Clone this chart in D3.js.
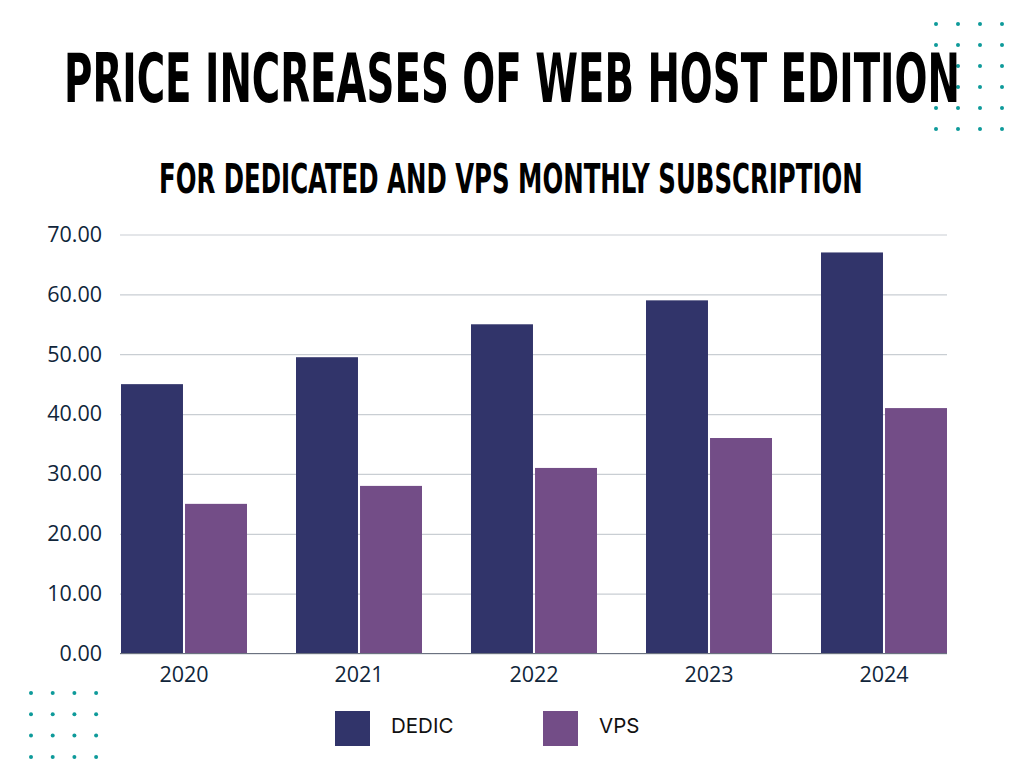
<!DOCTYPE html>
<html>
<head>
<meta charset="utf-8">
<script src="https://cdn.jsdelivr.net/npm/d3@7"></script>
<style>
  html, body { margin: 0; padding: 0; background: #ffffff; }
  svg { display: block; }
</style>
</head>
<body>
<script>
const years = ["2020", "2021", "2022", "2023", "2024"];
const dedic = [45, 49.5, 55, 59, 67];
const vps = [25, 28, 31, 36, 41];
const seriesNames = ["DEDIC", "VPS"];
const yTicks = [0, 10, 20, 30, 40, 50, 60, 70];
const titleText = "PRICE INCREASES OF WEB HOST EDITION";
const subtitleText = "FOR DEDICATED AND VPS MONTHLY SUBSCRIPTION";

const W = 1024, H = 768;
const colors = ["#31346a", "#734d87"];
const teal = "#0e9a9a";

const svg = d3.select("body").append("svg").attr("width", W).attr("height", H);
svg.append("rect").attr("width", W).attr("height", H).attr("fill", "#fff");

// decorative dot grids
const dotGrid = (x0, y0, cols, rows, dx, dy) => {
  const pts = [];
  for (let r = 0; r < rows; r++) for (let c = 0; c < cols; c++) pts.push([x0 + c * dx, y0 + r * dy]);
  svg.append("g").selectAll("circle").data(pts).join("circle")
    .attr("cx", d => d[0]).attr("cy", d => d[1]).attr("r", 2).attr("fill", teal);
};
dotGrid(936, 24, 4, 6, 22, 21);
dotGrid(31, 693, 4, 4, 21.7, 21.3);

// titles, fitted horizontally to the reference widths
const fitText = (txt, x, yb, size, targetW) => {
  const g = svg.append("g");
  const t = g.append("text").text(txt).attr("x", 0).attr("y", 0)
    .attr("font-family", "'DejaVu Sans Condensed', 'Liberation Sans Narrow', 'Liberation Sans', sans-serif")
    .attr("font-weight", "bold").attr("font-size", size).attr("fill", "#000");
  const w = t.node().getComputedTextLength();
  g.attr("transform", `translate(${x},${yb}) scale(${targetW / w},1)`);
};
fitText(titleText, 64, 102, 68, 896);
fitText(subtitleText, 159, 193, 41, 704);

// scales
const x0 = d3.scaleBand().domain(years).range([121, 947]).paddingInner(0.28).paddingOuter(0);
const x1 = d3.scaleBand().domain(seriesNames).range([0, x0.bandwidth()]).paddingInner(0.032);
const y = d3.scaleLinear().domain([0, 70]).range([653.5, 234.5]);

// gridlines + y labels
const yAxis = d3.axisLeft(y).tickValues(yTicks).tickFormat(d3.format(".2f"))
  .tickSize(-(947 - 120)).tickPadding(18);
const gy = svg.append("g").attr("transform", "translate(120,0)").call(yAxis);
gy.select(".domain").remove();
gy.selectAll(".tick line").attr("stroke", "#c9ced3").attr("stroke-width", 1.2);
gy.selectAll(".tick text")
  .attr("font-family", "'Open Sans', 'Noto Sans', sans-serif")
  .attr("font-weight", 500)
  .attr("font-size", 21.5).attr("fill", "#10253a");

// bars
const data = years.map((yr, i) => ({ year: yr, vals: [dedic[i], vps[i]] }));
const groups = svg.append("g").selectAll("g").data(data).join("g")
  .attr("transform", d => `translate(${x0(d.year)},0)`);
groups.selectAll("rect").data(d => d.vals.map((v, j) => ({ v, j }))).join("rect")
  .attr("x", d => x1(seriesNames[d.j]))
  .attr("width", x1.bandwidth())
  .attr("y", d => y(d.v))
  .attr("height", d => y(0) - y(d.v))
  .attr("fill", d => colors[d.j]);

// baseline
svg.append("line").attr("x1", 120).attr("x2", 947).attr("y1", y(0)).attr("y2", y(0))
  .attr("stroke", "#6b7280").attr("stroke-width", 1.2);

// x axis labels
const xAxis = d3.axisBottom(x0).tickSize(0).tickPadding(13);
const gx = svg.append("g").attr("transform", `translate(0,${y(0)})`).call(xAxis);
gx.select(".domain").remove();
gx.selectAll(".tick text")
  .attr("font-family", "'Open Sans', 'Noto Sans', sans-serif")
  .attr("font-weight", 500)
  .attr("font-size", 21.5).attr("fill", "#10253a");

// legend
const legendX = [335, 543];
const lg = svg.append("g").selectAll("g").data(seriesNames).join("g")
  .attr("transform", (d, i) => `translate(${legendX[i]},711)`);
lg.append("rect").attr("width", 35).attr("height", 35).attr("fill", (d, i) => colors[i]);
lg.append("text").text(d => d).attr("x", 56).attr("y", 22)
  .attr("font-family", "Inter, 'Noto Sans', sans-serif")
  .attr("font-size", 20.5).attr("fill", "#111");
</script>
</body>
</html>
